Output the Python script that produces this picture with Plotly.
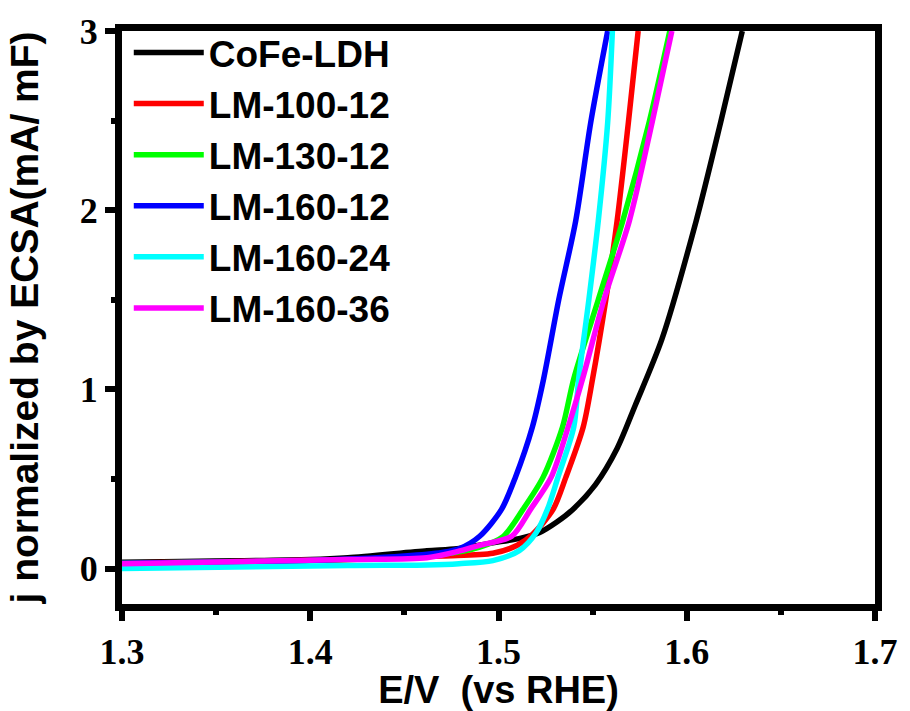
import plotly.graph_objects as go

# ---- data ----
names = ["CoFe-LDH", "LM-100-12", "LM-130-12", "LM-160-12", "LM-160-24", "LM-160-36"]
colors = ["#000000", "#FF0000", "#00FF00", "#0000FF", "#00FFFF", "#FF00FF"]

cofe_x = [1.30, 1.40, 1.42, 1.462, 1.478, 1.497, 1.512, 1.5216, 1.531, 1.5395, 1.5516, 1.563, 1.5726, 1.5868, 1.605, 1.618, 1.6295]
cofe_y = [0.035, 0.05, 0.06, 0.099, 0.11, 0.143, 0.17, 0.20, 0.26, 0.33, 0.47, 0.67, 0.91, 1.28, 1.94, 2.49, 3.0]

lm100_x = [1.30, 1.42, 1.47, 1.497, 1.51, 1.518, 1.529, 1.5358, 1.545, 1.550, 1.557, 1.563, 1.569, 1.5742]
lm100_y = [0.03, 0.05, 0.07, 0.085, 0.13, 0.19, 0.33, 0.51, 0.79, 1.06, 1.50, 1.94, 2.49, 3.0]

lm130_x = [1.30, 1.42, 1.47, 1.49, 1.5026, 1.513, 1.5237, 1.534, 1.540, 1.553, 1.566, 1.580, 1.591]
lm130_y = [0.03, 0.05, 0.08, 0.12, 0.18, 0.33, 0.51, 0.79, 1.06, 1.50, 1.94, 2.49, 3.0]

lm160_12_x = [1.30, 1.40, 1.45, 1.47, 1.479, 1.49, 1.5016, 1.509, 1.518, 1.524, 1.532, 1.541, 1.549, 1.558]
lm160_12_y = [0.03, 0.045, 0.07, 0.09, 0.11, 0.18, 0.33, 0.51, 0.79, 1.06, 1.50, 1.94, 2.49, 3.0]

lm160_24_x = [1.30, 1.42, 1.462, 1.479, 1.497, 1.511, 1.52, 1.526, 1.5316, 1.540, 1.5426, 1.548, 1.553, 1.558, 1.5605]
lm160_24_y = [0.0, 0.017, 0.02, 0.027, 0.044, 0.10, 0.20, 0.33, 0.51, 0.79, 1.06, 1.50, 1.94, 2.49, 3.0]

lm160_36_x = [1.30, 1.42, 1.462, 1.478, 1.49, 1.507, 1.517, 1.528, 1.537, 1.5447, 1.556, 1.5695, 1.5816, 1.5921]
lm160_36_y = [0.027, 0.05, 0.06, 0.094, 0.13, 0.18, 0.33, 0.51, 0.79, 1.06, 1.50, 1.94, 2.49, 3.0]

series_x = [cofe_x, lm100_x, lm130_x, lm160_12_x, lm160_24_x, lm160_36_x]
series_y = [cofe_y, lm100_y, lm130_y, lm160_12_y, lm160_24_y, lm160_36_y]

x_ticks = [1.3, 1.4, 1.5, 1.6, 1.7]
x_ticklabels = ["1.3", "1.4", "1.5", "1.6", "1.7"]
x_minor = [1.35, 1.45, 1.55, 1.65]
y_ticks = [0, 1, 2, 3]
y_ticklabels = ["0", "1", "2", "3"]
y_minor = [0.5, 1.5, 2.5]

fig = go.Figure()
for n, c, xs, ys in zip(names, colors, series_x, series_y):
    fig.add_trace(go.Scatter(x=xs, y=ys, mode="lines", name=n,
                             line=dict(color=c, width=5.5, shape="spline", smoothing=0.8)))

tickfont = dict(family="Liberation Serif", size=36, color="black", weight="bold")
LW = 7

fig.update_layout(
    template="none",
    width=910, height=711,
    margin=dict(l=122, r=30, t=30, b=103),
    plot_bgcolor="white", paper_bgcolor="white",
    showlegend=True,
    legend=dict(x=0.009, y=1.0159, xanchor="left", yanchor="top",
                bgcolor="rgba(0,0,0,0)", borderwidth=0,
                font=dict(family="Liberation Sans", size=37, color="black", weight="bold"),
                itemwidth=70, tracegroupgap=0),
    xaxis=dict(range=[1.3, 1.7], tickvals=x_ticks, ticktext=x_ticklabels,
               showgrid=False, zeroline=False, automargin=True,
               showline=True, linecolor="#000000", linewidth=LW, mirror=True,
               ticks="outside", ticklen=10, tickwidth=6, tickcolor="#000000",
               minor=dict(tickvals=x_minor, ticks="outside", ticklen=4, tickwidth=6, tickcolor="#000000", showgrid=False),
               tickfont=tickfont,
               title=dict(text="E/V  (vs RHE)", font=dict(family="Liberation Sans", size=38, color="black", weight="bold"), standoff=0)),
    yaxis=dict(range=[-0.198, 3.0], tickvals=y_ticks, ticktext=y_ticklabels,
               showgrid=False, zeroline=False, automargin=True,
               showline=True, linecolor="#000000", linewidth=LW, mirror=True,
               ticks="outside", ticklen=10, tickwidth=6, tickcolor="#000000",
               minor=dict(tickvals=y_minor, ticks="outside", ticklen=4, tickwidth=6, tickcolor="#000000", showgrid=False),
               tickfont=tickfont,
               title=dict(text="j normalized by ECSA(mA/ mF)", font=dict(family="Liberation Sans", size=39, color="black", weight="bold"), standoff=32)),
)

fig.write_html("out.html")
